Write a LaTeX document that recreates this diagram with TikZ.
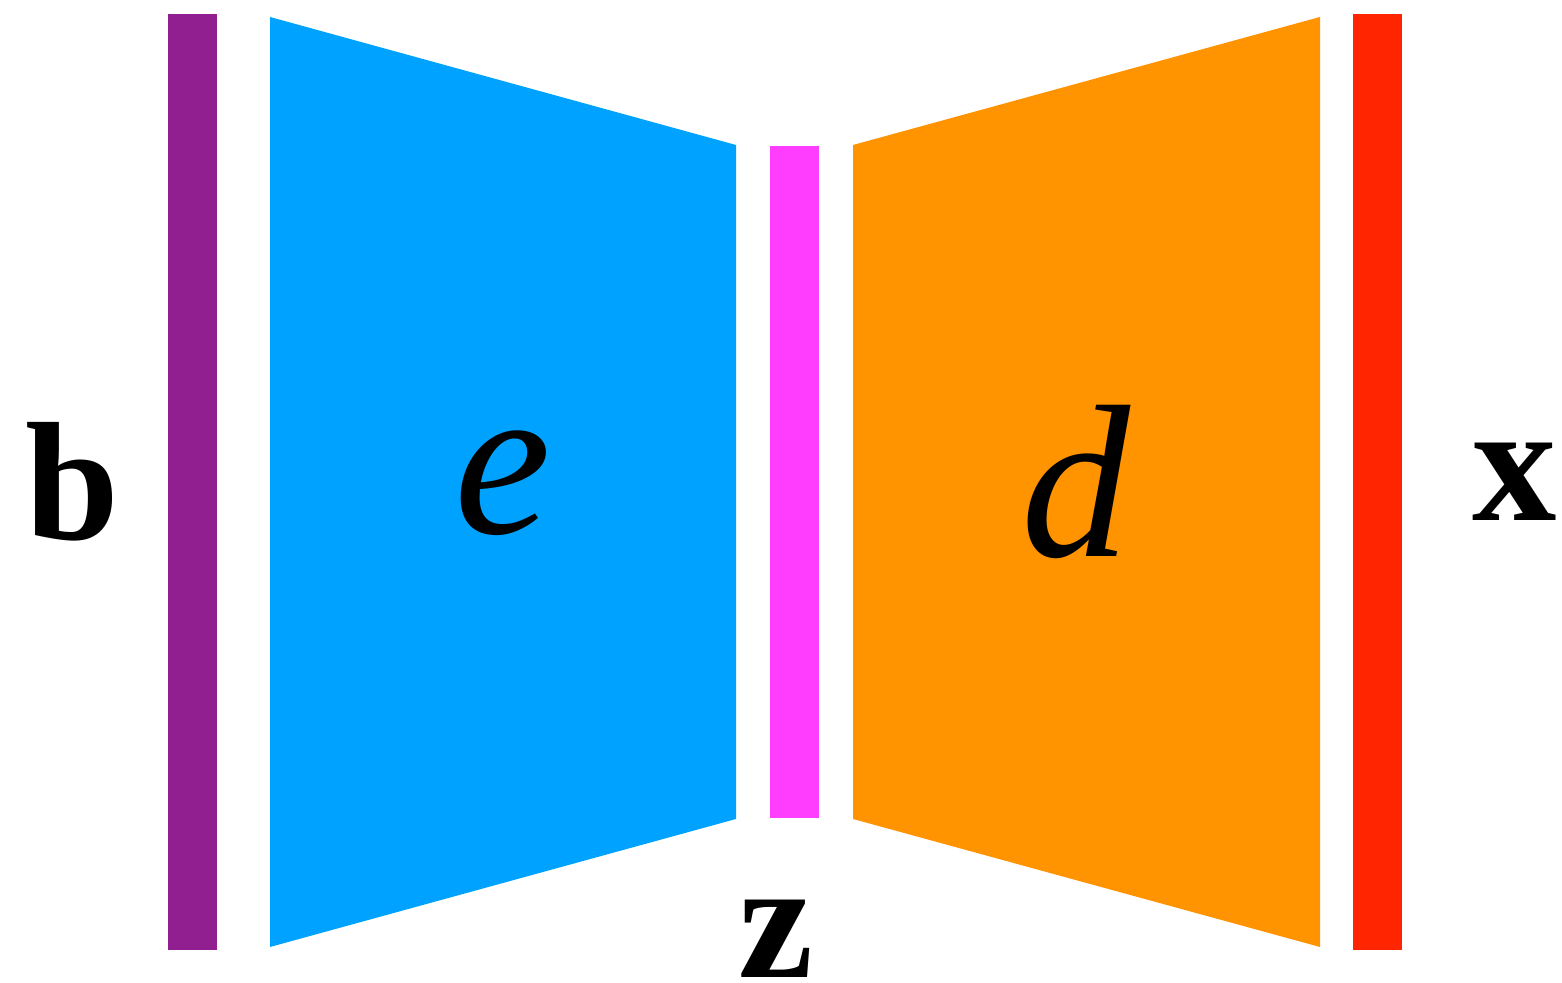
\documentclass[tikz,border=0pt]{standalone}
\usepackage{fontspec}
\setmainfont{Liberation Serif}
\usepackage{xcolor}
\usetikzlibrary{positioning}
\definecolor{inbar}{HTML}{921F8F}
\definecolor{encblue}{HTML}{00A2FF}
\definecolor{codebar}{HTML}{FF3DFF}
\definecolor{decorange}{HTML}{FF9300}
\definecolor{outbar}{HTML}{FF2500}

\begin{document}
\begin{tikzpicture}[x=0.01cm,y=-0.01cm,
 lbl/.style={font=\fontsize{48}{58}\selectfont\bfseries,inner sep=0pt},
 netlbl/.style={font=\fontsize{62}{74}\selectfont\itshape,inner sep=0pt}]
\useasboundingbox (0,0) rectangle (1562,983);
\fill[inbar] (168,14) rectangle (217,950);
\fill[encblue] (270,17) -- (736,145) -- (736,819) -- (270,947) -- cycle;
\fill[codebar] (770,146) rectangle (819,818);
\fill[decorange] (853,145) -- (1320,17) -- (1320,947) -- (853,819) -- cycle;
\fill[outbar] (1353,14) rectangle (1402,950);
\node[lbl] (b) at (72,482) {b};
\node[netlbl] (e) at (503,483) {e};
\node[netlbl] (d) at (1076,482) {d};
\node[lbl] (x) at (1515,482) {x};
\node[lbl] (z) at (776,939) {z};
\end{tikzpicture}
\end{document}
